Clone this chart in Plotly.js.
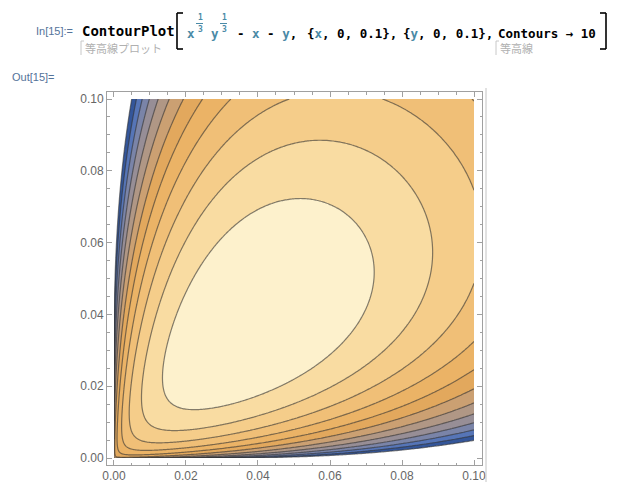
<!DOCTYPE html>
<html>
<head>
<meta charset="utf-8">
<script src="https://cdn.plot.ly/plotly-3.0.1.min.js"></script>
<style>
html,body{margin:0;padding:0;background:#fff;}
#chart{width:617px;height:490px;}
</style>
</head>
<body>
<div id="chart"></div>
<script>
// ---- data ----
// function plotted (as stated in the notebook input): x^(1/3) y^(1/3) - x - y on [0,0.1]^2
const xDomain = [0, 0.1];
const yDomain = [0, 0.1];
const gridSteps = 220;
// contour levels
const levelStart = -0.026;   // lower clip of the plotted range (white beyond)
const levelEnd = 0.0312;
const levelStep = 0.0052;
// band colours, lowest band (clipped, blank) first
const bandColors = ['#ffffff', '#34569a', '#5675b7', '#7a84a8', '#978e96', '#b09785',
                    '#cba072', '#e2a85d', '#ebb366', '#f0bf77', '#f5cd8a', '#f9dca2', '#fdf1cc'];
const xTickVals = [0, 0.02, 0.04, 0.06, 0.08, 0.1];
const xTickText = ['0.00', '0.02', '0.04', '0.06', '0.08', '0.10'];
const yTickVals = [0, 0.02, 0.04, 0.06, 0.08, 0.1];
const yTickText = ['0.00', '0.02', '0.04', '0.06', '0.08', '0.10'];

// ---- grid (denser near the axes, where the function is steep) ----
const xs = [], ys = [];
for (let i = 0; i <= gridSteps; i++) {
  const t = Math.pow(i / gridSteps, 1.5);
  xs.push(xDomain[0] + t * (xDomain[1] - xDomain[0]));
  ys.push(yDomain[0] + t * (yDomain[1] - yDomain[0]));
}
const f = (x, y) => Math.cbrt(x) * Math.cbrt(y) - x - y;
const zs = ys.map(y => xs.map(x => f(x, y)));

// piecewise-constant colourscale so each band gets one colour
const nUnits = bandColors.length - 1;
const colorscale = [];
for (let k = 0; k < nUnits; k++) {
  colorscale.push([k / nUnits, bandColors[k]]);
  colorscale.push([(k + 1) / nUnits - 1e-6, bandColors[k]]);
}
colorscale.push([1, bandColors[nUnits]]);

// ---- layout geometry ----
const L = 107, T = 92, R = 482, B = 465;
const W = R - L, H = B - T;
const PX = p => (p - L) / W;
const PY = p => (B - p) / H;

const trace = {
  type: 'contour',
  x: xs, y: ys, z: zs,
  autocontour: false,
  contours: {start: levelStart, end: levelEnd + levelStep / 100, size: levelStep, coloring: 'fill', showlines: true},
  line: {color: 'rgba(50,50,50,0.6)', width: 1.2},
  colorscale: colorscale,
  showscale: false,
  hoverinfo: 'skip'
};

const teal = '#4a8aa6';
const mono = '"DejaVu Sans Mono", monospace';
const codeFont = {family: mono, size: 12.5, color: '#000'};
const labelFont = {family: 'Liberation Sans, Arial', size: 11, color: '#54739a'};
const ann = (text, x, y, font, xanchor) => ({
  text: text, xref: 'paper', yref: 'paper', x: PX(x), y: PY(y),
  xanchor: xanchor || 'left', yanchor: 'middle', showarrow: false, font: font
});
const bold = s => '<b>' + s + '</b>';
const tc = s => '<span style="color:' + teal + '">' + s + '</span>';

const annotations = [
  ann('In[15]:=', 75, 31, labelFont, 'right'),
  ann(bold('ContourPlot'), 80, 31, {family: mono, size: 14, color: '#000'}),
  ann(bold(tc('x')), 185, 34, codeFont),
  ann(bold(tc('1')), 196, 17, {family: mono, size: 8, color: teal}),
  ann(bold(tc('3')), 196, 29, {family: mono, size: 8, color: teal}),
  ann(bold(tc('y')), 209, 34, codeFont),
  ann(bold(tc('1')), 220, 17, {family: mono, size: 8, color: teal}),
  ann(bold(tc('3')), 220, 29, {family: mono, size: 8, color: teal}),
  ann(bold('- ' + tc('x') + ' - ' + tc('y') + ','), 235, 34, codeFont),
  ann(bold('{' + tc('x') + ', 0, 0.1},'), 305, 34, codeFont),
  ann(bold('{' + tc('y') + ', 0, 0.1},'), 401, 34, codeFont),
  ann(bold('Contours → 10'), 496, 34, codeFont),
  ann('等高線プロット', 83, 48, {family: '"Noto Sans CJK JP"', size: 11, color: '#b0b0b0'}),
  ann('等高線', 498, 48, {family: '"Noto Sans CJK JP"', size: 11, color: '#b0b0b0'}),
  ann('Out[15]=', 57, 77, labelFont, 'right')
];

const ln = (x0, y0, x1, y1, color, w) => ({
  type: 'line', xref: 'paper', yref: 'paper', x0: PX(x0), y0: PY(y0), x1: PX(x1), y1: PY(y1),
  line: {color: color, width: w || 1}
});
const shapes = [
  // big brackets of the input cell
  ln(177, 13, 177, 49, '#000', 1.6),
  ln(177, 13, 183, 13, '#000', 1.6),
  ln(177, 49, 183, 49, '#000', 1.6),
  ln(606, 13, 606, 49, '#000', 1.6),
  ln(600, 13, 606, 13, '#000', 1.6),
  ln(600, 49, 606, 49, '#000', 1.6),
  // fraction bars
  ln(196, 23.5, 203, 23.5, teal, 1),
  ln(220, 23.5, 227, 23.5, teal, 1),
  // small grey brackets for the tooltips
  ln(81, 41, 81, 55, '#c8c8c8', 1),
  ln(81, 41, 84, 41, '#c8c8c8', 1),
  ln(496, 41, 496, 55, '#c8c8c8', 1),
  ln(496, 41, 499, 41, '#c8c8c8', 1),
  // cell bracket line at the right
  ln(486, 88, 486, 482, '#c4c4c4', 1)
];

const axisCommon = {
  showgrid: false, zeroline: false, showline: true, linecolor: '#a0a0a0', linewidth: 1,
  mirror: 'ticks', ticks: 'inside', ticklen: 5, tickcolor: '#a0a0a0', tickwidth: 1,
  tickfont: {family: 'Liberation Sans, Arial', size: 12, color: '#666'},
  minor: {dtick: 0.005, ticks: 'inside', ticklen: 2.5, tickcolor: '#a0a0a0', tickwidth: 1, showgrid: false},
  tickmode: 'array'
};

const layout = {
  width: 617, height: 490,
  margin: {l: L, r: 617 - R, t: T, b: 490 - B, pad: 0},
  paper_bgcolor: '#fff', plot_bgcolor: '#fff',
  showlegend: false,
  xaxis: Object.assign({}, axisCommon, {range: [-0.00194, 0.10222], tickvals: xTickVals, ticktext: xTickText}),
  yaxis: Object.assign({}, axisCommon, {range: [-0.00195, 0.10195], tickvals: yTickVals, ticktext: yTickText}),
  annotations: annotations,
  shapes: shapes
};

Plotly.newPlot('chart', [trace], layout, {staticPlot: true, displayModeBar: false});
</script>
</body>
</html>
